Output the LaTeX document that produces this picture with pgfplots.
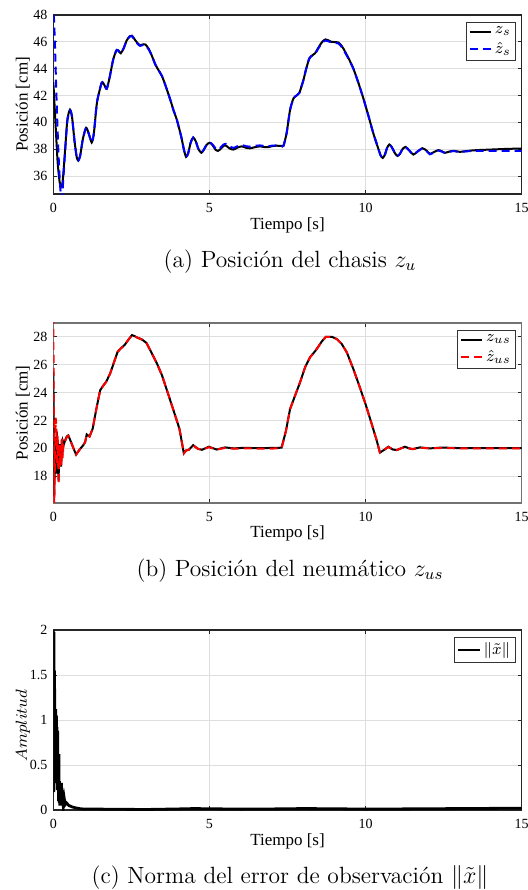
\documentclass[border=0pt]{standalone}
\usepackage{amsmath}
\usepackage{fontspec}
\usepackage{pgfplots}
\pgfplotsset{compat=1.18}
\newfontfamily\tnr{Liberation Serif}

\pgfplotsset{
  matfig/.style={
    scale only axis,
    width=234.2pt,
    xmin=0, xmax=15,
    xtick={0,5,10,15},
    grid=major,
    major grid style={black!13, line width=0.5pt},
    tick align=inside,
    major tick length=2pt,
    tick style={black!85, line width=0.5pt},
    axis line style={black!85, line width=0.6pt},
    /pgf/number format/assume math mode=true,
    tick label style={font=\fontsize{7}{8}\selectfont\tnr, inner sep=0pt},
    xticklabel style={anchor=center, yshift=-6.9pt},
    yticklabel style={anchor=east, xshift=-2.8pt},
    xlabel={Tiempo [s]},
    every axis x label/.style={at={(axis description cs:0.5,0)}, anchor=center,
      yshift=-15.5pt, font=\fontsize{8.5}{10}\selectfont\tnr},
    every axis y label/.style={at={(axis description cs:0,0.5)},
      xshift=-15.2pt, rotate=90, anchor=center,
      font=\fontsize{8.5}{10}\selectfont\tnr},
    legend style={at={(axis description cs:1,1)}, anchor=north east,
      xshift=-2.9pt, yshift=-3.5pt, draw=black!80, line width=0.5pt,
      font=\fontsize{8.5}{10}\selectfont, inner sep=1pt,
      row sep=0pt, legend cell align=left,
      nodes={inner sep=1.3pt}},
    legend image code/.code={\draw[##1] (0pt,0pt) -- (10.8pt,0pt);},
  },
  thinleg/.style={
    legend image code/.code={\draw[##1, line width=0.8pt] (0pt,0pt) -- (11pt,0pt);},
  },
}

\begin{document}
\begin{tikzpicture}
\path[use as bounding box] (0pt,0pt) rectangle (264pt,-445pt);

% (a) chasis
\begin{axis}[matfig,
    at={(26.65pt,-97pt)}, anchor=south west, height=89.5pt,
    ymin=34.66, ymax=48, ytick={36,38,...,48},
    ylabel={Posición [cm]}]
\addplot[black, line width=1pt, smooth, tension=0.4] coordinates {
(0,43.0) (0.02,42.2) (0.08,39.5) (0.14,37.0) (0.2,35.6) (0.246,35.2) (0.3,35.6)
(0.38,38.0) (0.45,40.2) (0.535,40.95) (0.6,40.4) (0.68,38.6) (0.75,37.4) (0.80,37.15)
(0.86,37.5) (0.95,38.8) (1.05,39.6) (1.13,39.2) (1.23,38.5) (1.3,39.2) (1.4,41.5)
(1.55,42.95) (1.63,42.8) (1.71,42.5) (1.8,43.3) (1.92,44.7) (2.03,45.4) (2.1,45.3)
(2.16,45.15) (2.25,45.5) (2.35,46.1) (2.45,46.42) (2.52,46.46) (2.6,46.2) (2.7,45.9)
(2.78,45.75) (2.88,45.82) (2.95,45.8) (3.05,45.5) (3.15,45.0) (3.27,44.3) (3.38,43.85)
(3.48,43.45) (3.6,42.7) (3.75,41.66) (3.85,40.9) (3.96,40.16) (4.1,38.9) (4.18,38.0)
(4.25,37.43) (4.32,37.7) (4.4,38.5) (4.48,38.87) (4.56,38.6) (4.65,38.0) (4.74,37.73)
(4.82,37.95) (4.92,38.35) (5.01,38.48) (5.1,38.3) (5.2,37.95) (5.27,37.87) (5.35,38.0)
(5.45,38.25) (5.52,38.28) (5.65,38.05) (5.77,37.97) (5.9,38.12) (6.04,38.21) (6.18,38.1)
(6.3,38.06) (6.45,38.15) (6.62,38.21) (6.75,38.16) (6.89,38.16) (7.0,38.22) (7.15,38.26)
(7.3,38.24) (7.37,38.25) (7.47,39.17) (7.58,40.9) (7.69,41.78) (7.79,42.0) (7.88,42.2)
(7.95,42.7) (8.01,43.15) (8.1,44.0) (8.2,44.77) (8.3,45.0) (8.38,45.14) (8.46,45.45)
(8.54,45.76) (8.63,46.05) (8.72,46.18) (8.8,46.12) (8.91,46.0) (9.02,45.98) (9.13,45.95)
(9.2,45.8) (9.29,45.5) (9.45,44.8) (9.61,44.0) (9.77,42.95) (9.93,41.78) (10.09,40.5)
(10.25,39.17) (10.4,38.1) (10.48,37.55) (10.55,37.35) (10.62,37.6) (10.69,38.1)
(10.76,38.35) (10.84,38.15) (10.94,37.7) (11.02,37.5) (11.1,37.65) (11.18,38.0)
(11.28,38.17) (11.4,37.9) (11.53,37.6) (11.65,37.8) (11.82,38.07) (11.95,37.9)
(12.06,37.65) (12.2,37.8) (12.33,37.93) (12.44,37.85) (12.54,37.73) (12.68,37.82)
(12.81,37.88) (12.92,37.84) (13.02,37.8) (13.3,37.88) (13.56,37.93) (14.09,37.98)
(14.5,38.02) (15,38.05)
};
\addlegendentry{$z_s$}
\addplot[blue, line width=1pt, dash pattern=on 4pt off 2.5pt, smooth, tension=0.4] coordinates {
(0,49.0) (0.05,46.0) (0.1,42.0) (0.16,38.0) (0.22,35.2) (0.27,34.3) (0.3,35.0)
(0.38,37.9) (0.45,40.1) (0.535,40.9) (0.6,40.4) (0.68,38.6) (0.75,37.4) (0.80,37.15)
(0.86,37.5) (0.95,38.8) (1.05,39.6) (1.13,39.2) (1.23,38.5) (1.3,39.2) (1.4,41.5)
(1.55,42.95) (1.63,42.8) (1.71,42.5) (1.8,43.3) (1.92,44.7) (2.03,45.4) (2.1,45.3)
(2.16,45.15) (2.25,45.5) (2.35,46.1) (2.45,46.4) (2.52,46.42) (2.6,46.15) (2.7,45.85)
(2.78,45.7) (2.88,45.77) (2.95,45.75) (3.05,45.45) (3.15,45.0) (3.27,44.3) (3.38,43.85)
(3.48,43.45) (3.6,42.7) (3.75,41.66) (3.85,40.9) (3.96,40.16) (4.1,38.9) (4.18,38.0)
(4.25,37.43) (4.32,37.7) (4.4,38.5) (4.48,38.87) (4.56,38.6) (4.65,38.0) (4.74,37.75)
(4.82,37.98) (4.92,38.38) (5.01,38.5) (5.1,38.35) (5.2,38.05) (5.27,37.98) (5.35,38.1)
(5.45,38.35) (5.52,38.4) (5.65,38.2) (5.77,38.1) (5.9,38.22) (6.04,38.3) (6.18,38.22)
(6.3,38.18) (6.45,38.25) (6.62,38.28) (6.75,38.24) (6.89,38.22) (7.0,38.26) (7.15,38.28)
(7.3,38.26) (7.37,38.25) (7.47,39.17) (7.58,40.9) (7.69,41.78) (7.79,42.0) (7.88,42.2)
(7.95,42.7) (8.01,43.15) (8.1,44.0) (8.2,44.77) (8.3,45.0) (8.38,45.1) (8.46,45.4)
(8.54,45.7) (8.63,45.98) (8.72,46.1) (8.8,46.05) (8.91,45.95) (9.02,45.92) (9.13,45.88)
(9.2,45.72) (9.29,45.42) (9.45,44.75) (9.61,44.0) (9.77,42.95) (9.93,41.78) (10.09,40.5)
(10.25,39.17) (10.4,38.1) (10.48,37.55) (10.55,37.35) (10.62,37.6) (10.69,38.1)
(10.76,38.35) (10.84,38.15) (10.94,37.7) (11.02,37.5) (11.1,37.65) (11.18,38.0)
(11.28,38.17) (11.4,37.9) (11.53,37.6) (11.65,37.8) (11.82,38.05) (11.95,37.88)
(12.06,37.62) (12.2,37.78) (12.33,37.9) (12.44,37.82) (12.54,37.72) (12.68,37.8)
(12.81,37.86) (12.92,37.82) (13.02,37.8) (13.3,37.85) (13.56,37.87) (14.09,37.88)
(14.5,37.88) (15,37.87)
};
\addlegendentry{$\hat{z}_s$}
\end{axis}

% (b) neumatico
\begin{axis}[matfig,
    at={(26.65pt,-251.4pt)}, anchor=south west, height=90pt,
    ymin=16.1, ymax=29, ytick={18,20,...,28},
    ylabel={Posición [cm]},
    axis line style={black!55, line width=0.7pt}]
\addplot[black, line width=1pt] coordinates {
(0,25.5) (0.015,22) (0.03,16.6) (0.05,19.5) (0.07,20.8) (0.09,18.2) (0.11,21.2)
(0.13,19.0) (0.15,20.4) (0.17,17.7) (0.19,20.2) (0.21,18.9) (0.23,20.3) (0.25,18.7)
(0.27,20.6) (0.29,19.5) (0.31,20.5) (0.34,20.3) (0.37,20.52) (0.43,20.85) (0.48,20.93)
(0.56,20.5) (0.64,20.04) (0.73,19.56) (0.86,19.97) (0.95,20.2) (1.02,20.45) (1.07,21.0)
(1.16,20.85) (1.26,21.4) (1.39,22.96) (1.5,24.16) (1.6,24.5) (1.69,24.76) (1.82,25.36)
(1.93,26.08) (2.06,26.92) (2.16,27.16) (2.28,27.4) (2.41,27.8) (2.52,28.12) (2.6,28.05)
(2.68,27.95) (2.84,27.8) (2.98,27.57) (3.16,26.8) (3.32,26.08) (3.48,25.24) (3.64,24.16)
(3.85,22.72) (4.04,21.4) (4.18,19.65) (4.25,19.85) (4.34,19.9) (4.48,20.23) (4.63,19.97)
(4.76,19.9) (4.98,20.12) (5.23,19.92) (5.5,20.07) (5.78,20.0) (6.1,20.04) (6.5,20.02)
(7.0,20.03) (7.31,20.05) (7.45,21.25) (7.58,22.8) (7.74,23.77) (7.9,24.72) (8.06,25.8)
(8.22,26.52) (8.41,27.04) (8.6,27.67) (8.73,28.0) (8.92,28.0) (9.08,27.83) (9.24,27.47)
(9.4,26.88) (9.61,25.68) (9.8,24.48) (10.0,23.17) (10.2,21.73) (10.36,20.54) (10.46,19.7)
(10.6,19.9) (10.73,20.12) (10.87,19.92) (11.0,19.88) (11.13,20.0) (11.26,20.12)
(11.4,20.0) (11.51,19.95) (11.74,20.07) (12.06,20.0) (12.44,20.06) (13.02,20.02)
(14,20.02) (15,20.02)
};
\addlegendentry{$z_{us}$}
\addplot[red, line width=1pt, dash pattern=on 4pt off 2.5pt] coordinates {
(0,29.5) (0.015,23) (0.03,16.0) (0.05,18.5) (0.075,22.2) (0.1,21.6) (0.12,18.8)
(0.14,20.9) (0.17,17.4) (0.19,20.3) (0.21,18.6) (0.23,20.2) (0.26,18.8) (0.28,20.7)
(0.3,19.3) (0.33,20.5) (0.37,20.45) (0.43,20.8) (0.48,20.9)
(0.56,20.5) (0.64,20.04) (0.73,19.56) (0.86,19.97) (0.95,20.2) (1.02,20.45) (1.07,21.0)
(1.16,20.85) (1.26,21.4) (1.39,22.96) (1.5,24.16) (1.6,24.5) (1.69,24.76) (1.82,25.36)
(1.93,26.08) (2.06,26.92) (2.16,27.16) (2.28,27.4) (2.41,27.8) (2.52,28.12) (2.6,28.05)
(2.68,27.95) (2.84,27.8) (2.98,27.57) (3.16,26.8) (3.32,26.08) (3.48,25.24) (3.64,24.16)
(3.85,22.72) (4.04,21.4) (4.18,19.65) (4.25,19.85) (4.34,19.9) (4.48,20.2) (4.63,19.97)
(4.76,19.9) (4.98,20.08) (5.23,19.92) (5.5,20.03) (5.78,19.98) (6.1,20.0) (6.5,19.99)
(7.0,19.99) (7.31,20.0) (7.45,21.25) (7.58,22.8) (7.74,23.77) (7.9,24.72) (8.06,25.8)
(8.22,26.52) (8.41,27.04) (8.6,27.67) (8.73,28.0) (8.92,28.0) (9.08,27.83) (9.24,27.47)
(9.4,26.88) (9.61,25.68) (9.8,24.48) (10.0,23.17) (10.2,21.73) (10.36,20.54) (10.46,19.7)
(10.6,19.9) (10.73,20.1) (10.87,19.92) (11.0,19.88) (11.13,20.0) (11.26,20.1)
(11.4,20.0) (11.51,19.95) (11.74,20.05) (12.06,20.0) (12.44,20.03) (13.02,20.0)
(14,20.0) (15,20.0)
};
\addlegendentry{$\hat{z}_{us}$}
\end{axis}

% (c) error
\begin{axis}[matfig, thinleg,
    at={(26.65pt,-405pt)}, anchor=south west, height=90pt,
    ymin=0, ymax=2, ytick={0,0.5,...,2},
    yticklabels={0,0.5,1,1.5,2},
    ylabel={$Amplitud$},
    every axis y label/.append style={xshift=-2.7pt},
    legend style={row sep=0pt, nodes={inner sep=1.6pt}}]
\addplot[black, line width=1.4pt] coordinates {
(0,2.0) (0.01,0.2) (0.02,1.98) (0.03,0.45) (0.04,1.55) (0.05,0.35) (0.06,1.1)
(0.07,0.5) (0.08,1.12) (0.09,0.3) (0.1,1.05) (0.11,0.45) (0.12,0.92) (0.13,0.22)
(0.14,0.88) (0.15,0.3) (0.16,0.62) (0.17,0.1) (0.18,0.62) (0.19,0.08) (0.2,0.32)
(0.21,0.05) (0.22,0.3) (0.24,0.05) (0.26,0.3) (0.28,0.06) (0.3,0.12) (0.32,0.04)
(0.35,0.13) (0.38,0.06) (0.42,0.08) (0.5,0.05) (0.6,0.035) (0.7,0.025) (0.85,0.015)
(1.0,0.01) (1.2,0.012) (1.5,0.01) (2,0.008) (3,0.006) (4,0.012) (4.5,0.016) (5,0.014)
(6,0.01) (7,0.012) (8,0.016) (9,0.014) (10,0.01) (11,0.012) (12,0.014) (13,0.016)
(14,0.018) (15,0.02)
};
\addlegendentry{$\|\tilde{x}\|$}
\end{axis}

\node[anchor=mid, font=\fontsize{11.75}{14}\selectfont] at (145pt,-131.5pt)
  {(a) Posición del chasis $z_u$};
\node[anchor=mid, font=\fontsize{11.75}{14}\selectfont] at (145pt,-286pt)
  {(b) Posición del neumático $z_{us}$};
\node[anchor=mid, font=\fontsize{11.75}{14}\selectfont] at (145pt,-439.5pt)
  {(c) Norma del error de observación $\|\tilde{x}\|$};
\end{tikzpicture}
\end{document}
